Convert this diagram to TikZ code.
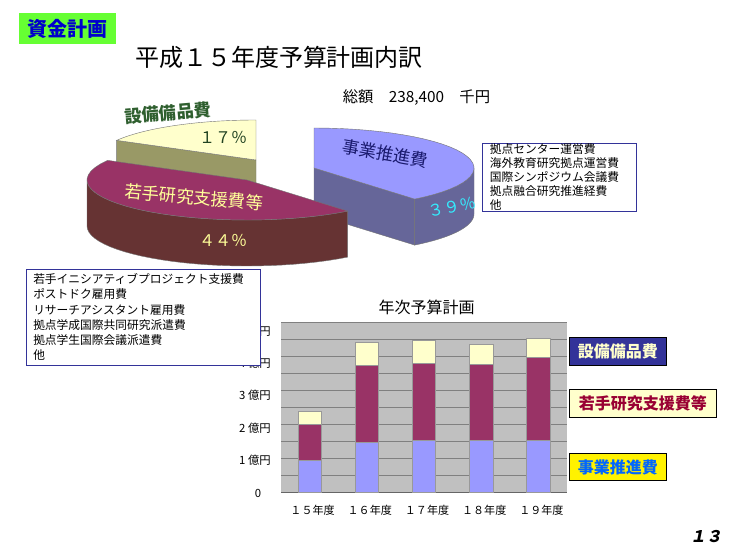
\documentclass[tikz,border=0pt]{standalone}
\usepackage{fontspec}
\setmainfont{Noto Sans CJK JP}
\newfontfamily\jpslant[FakeSlant=0.2]{Noto Sans CJK JP}
\usetikzlibrary{calc}
\definecolor{pieyellow}{HTML}{FFFFCC}
\definecolor{pieolive}{HTML}{999966}
\definecolor{piemaroon}{HTML}{993366}
\definecolor{piemaroonside}{HTML}{663333}
\definecolor{pieblue}{HTML}{9999FF}
\definecolor{pieblueside}{HTML}{666699}
\definecolor{navy}{HTML}{333399}
\definecolor{plotgray}{HTML}{C0C0C0}
\definecolor{fundgreen}{HTML}{66FF33}
\definecolor{fundblue}{HTML}{0000CC}
\definecolor{labgreen}{HTML}{2F5F2F}
\definecolor{labyellow}{HTML}{FFFF99}
\definecolor{labnavy}{HTML}{1A1A6E}
\definecolor{labcyan}{HTML}{33EEFF}
\definecolor{legmaroon}{HTML}{990033}
\definecolor{legblue}{HTML}{0066FF}
% pie slice pieces: [style](apex x,apex y)(start:end)
\def\pietop[#1](#2,#3)(#4:#5){\filldraw[#1] (#2,#3) -- plot[domain=#4:#5,samples=30] ({#2+160*cos(\x)},{#3-40*sin(\x)}) -- cycle;}
\def\pieside[#1](#2,#3)(#4:#5){\filldraw[#1] plot[domain=#4:#5,samples=30] ({#2+160*cos(\x)},{#3-40*sin(\x)}) -- plot[domain=#5:#4,samples=30] ({#2+160*cos(\x)},{#3+46-40*sin(\x)}) -- cycle;}
\def\piecut[#1](#2,#3)(#4){\filldraw[#1] (#2,#3) -- ({#2+160*cos(#4)},{#3-40*sin(#4)}) -- ++(0,46) -- (#2,#3+46) -- cycle;}

\begin{document}
\begin{tikzpicture}[x=0.75pt,y=-0.75pt,
    edge/.style={draw=black!55,line width=0.3pt},
    pielab/.style={inner sep=0pt},
    notebox/.style={draw=navy,fill=white,line width=0.6pt,align=left,inner xsep=5.4pt,inner ysep=0pt,font=\fontsize{8.8}{10.6}\selectfont},
    legendbox/.style={draw=black,line width=0.6pt,inner sep=0pt,font=\bfseries\fontsize{12}{14}\selectfont},
    ylab/.style={anchor=east,inner sep=0pt,font=\fontsize{8.5}{10}\selectfont},
    xlab/.style={inner sep=0pt,font=\fontsize{8.3}{10}\selectfont}]
		%%%%% START %%%%%
		\useasboundingbox[fill=white] (0,0) rectangle (733,549);
		
		\node[fill=fundgreen, text=fundblue, font=\bfseries\fontsize{15}{18}\selectfont, minimum width=72.5pt, minimum height=23.25pt, inner sep=0pt] (fundplan) at (67.3,28.8) {資金計画};
		\node[font=\fontsize{18}{20}\selectfont] (title) at (279,57) {平成１５年度予算計画内訳};
		\node[font=\fontsize{11.5}{13}\selectfont] (total) at (416.5,98) {総額　238,400　千円};
		
		% pie, back to front
		\piecut[fill=pieolive,edge](256,160)(150.6)
		\pietop[fill=pieyellow,edge](256,160)(90:150.6)
		
		\piecut[fill=pieblueside,edge](314,168)(309)
		\pieside[fill=pieblueside,edge](314,168)(309:360)
		\pietop[fill=pieblue,edge](314,168)(-51:90)
		
		\pieside[fill=piemaroonside,edge](247,180)(180:309)
		\pietop[fill=piemaroon,edge](247,180)(150.6:309)
		
		\node[pielab, rotate=5, text=labgreen, font=\bfseries\fontsize{13}{15}\selectfont] (lblequip) at (168,113) {設備備品費};
		\node[pielab, text=labgreen!70!black, font=\fontsize{12}{14}\selectfont] (pctequip) at (223,137) {１７％};
		\node[pielab, rotate=-5, text=labyellow, font=\fontsize{13}{15}\selectfont] (lblyoung) at (194,197) {若手研究支援費等};
		\node[pielab, text=labyellow, font=\fontsize{12}{14}\selectfont] (pctyoung) at (223,240) {４４％};
		\node[pielab, rotate=-10, text=labnavy, font=\fontsize{13}{15}\selectfont] (lblproj) at (385,154) {事業推進費};
		\node[pielab, rotate=12, text=labcyan, font=\fontsize{12}{14}\selectfont] (pctproj) at (452,207) {３９％};
		
		\node[notebox, minimum width=115pt, minimum height=50.8pt, text width=104.2pt] (projnote) at (559.4,177.2) {拠点センター運営費\\海外教育研究拠点運営費\\国際シンポジウム会議費\\拠点融合研究推進経費\\他};
		
		% bar chart
		\node[font=\fontsize{12}{14}\selectfont] (bartitle) at (426.7,307) {年次予算計画};
		\fill[plotgray] (281,322) rectangle (567,492);
		\foreach \k in {1,...,10}
			\draw[black!50, line width=0.4pt] (281,{492-17*\k}) -- (567,{492-17*\k});
		\draw[black!60, line width=0.6pt] (281,492) -- (567,492);
		
		\node[anchor=center, inner sep=0pt, font=\fontsize{8.5}{10}\selectfont] (yzero) at (258,493) {0};
		\foreach \v in {1,...,5}
			\node[ylab] (ylab\v) at (271,{492.5-32.3*\v}) {\v\ 億円};
		
		\foreach \i/\yr/\a/\b/\c in {1/５/0.94/1.99/2.38, 2/６/1.47/3.72/4.40, 3/７/1.52/3.80/4.46, 4/８/1.52/3.77/4.34, 5/９/1.52/3.97/4.51} {
			\pgfmathsetmacro\xc{281+57.2*(\i-0.5)}
			\filldraw[fill=pieblue, draw=black!40, line width=0.4pt] (\xc-11.7,492) rectangle (\xc+11.7,{492-34*\a});
			\filldraw[fill=piemaroon, draw=black!40, line width=0.4pt] (\xc-11.7,{492-34*\a}) rectangle (\xc+11.7,{492-34*\b});
			\filldraw[fill=pieyellow, draw=black!40, line width=0.4pt] (\xc-11.7,{492-34*\b}) rectangle (\xc+11.7,{492-34*\c});
			\node[xlab] (year\i) at (\xc+3,510) {１\yr 年度};
		}
		
		\node[notebox, minimum width=176pt, minimum height=71.8pt, text width=165.2pt, font=\fontsize{8.8}{11.4}\selectfont] (youngnote) at (143.4,317.2) {若手イニシアティブプロジェクト支援費\\ポストドク雇用費\\リサーチアシスタント雇用費\\拠点学成国際共同研究派遣費\\拠点学生国際会議派遣費\\他};
		
		\node[legendbox, fill=navy, text=pieyellow, minimum width=73.3pt, minimum height=21pt] (legequip) at (617.9,351.3) {設備備品費};
		\node[legendbox, fill=pieyellow, text=legmaroon, minimum width=110.8pt, minimum height=21.3pt] (legyoung) at (642.9,403.5) {若手研究支援費等};
		\node[legendbox, fill=yellow, text=legblue, minimum width=73.3pt, minimum height=20.5pt] (legproj) at (617.9,467) {事業推進費};
		
		\node[font=\jpslant\bfseries\fontsize{12}{14}\selectfont] (pageno) at (706,537) {１３};
		%%%%% END %%%%%
\end{tikzpicture}
\end{document}
